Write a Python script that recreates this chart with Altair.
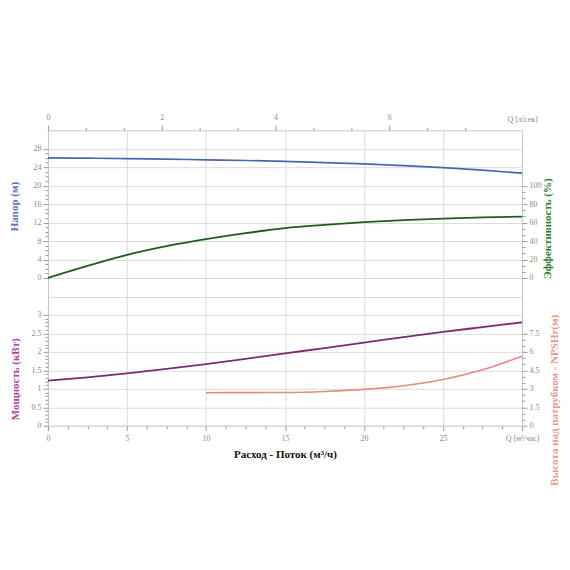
import altair as alt
import pandas as pd

# ---- data ----
q = [0, 2.5, 5, 7.5, 10, 12.5, 15, 17.5, 20, 22.5, 25, 27.5, 30]
head = [26.0, 25.95, 25.85, 25.75, 25.6, 25.45, 25.25, 25.0, 24.7, 24.35, 23.9, 23.35, 22.7]
eff = [0, 13, 25, 34.5, 42, 48.5, 54, 57.5, 60.4, 62.6, 64.4, 65.6, 66.5]
power = [1.22, 1.31, 1.42, 1.54, 1.67, 1.81, 1.96, 2.10, 2.25, 2.40, 2.54, 2.67, 2.80]
q_npsh = [10, 12.5, 15, 17.5, 20, 22.5, 25, 27.5, 30]
npsh = [2.68, 2.69, 2.70, 2.78, 2.95, 3.25, 3.76, 4.55, 5.65]

# tick values
x_ticks = [round(i * 1.25, 2) for i in range(25)]            # m3/h, labelled every 5
top_ticks = [round(i * 2 / 3, 4) for i in range(12)] + [30 / 3.6]  # l/s, labelled every 2
head_ticks = sorted(set(list(range(-32, 33, 4)) + list(range(0, 29))))
eff_ticks = [round(i * 20 / 3, 4) for i in range(16)]        # 0..100
power_ticks = [round(i * 0.1, 1) for i in range(31)]         # 0..3
npsh_ticks = [round(i * 0.5, 1) for i in range(16)]          # 0..7.5

FONT = "Liberation Serif"
GRAY = "#8a8a8a"
C_HEAD = "#4a67ad"
C_EFF = "#1d5e1d"
C_POW = "#7e2a6c"
C_NPSH = "#e08c82"
T_HEAD = "#5673b5"
T_EFF = "#2f7d2f"
T_POW = "#b0449c"
T_NPSH = "#e39a90"

df_main = pd.DataFrame({"Q": q, "head": head, "eff": eff, "power": power})
df_npsh = pd.DataFrame({"Q": q_npsh, "npsh": npsh})


def major(step):
    return f"abs(datum.value/{step} - round(datum.value/{step})) < 0.01"


def cond(test, yes, no):
    return {"condition": {"test": test, "value": yes}, "value": no}


xscale = alt.Scale(domain=[0, 30], nice=False, zero=False)

head_layer = alt.Chart(df_main).mark_line(
    color=C_HEAD, strokeWidth=1.7, interpolate="monotone"
).encode(
    x=alt.X(
        "Q:Q",
        scale=xscale,
        axis=alt.Axis(
            orient="bottom",
            values=x_ticks,
            domain=False,
            grid=True,
            gridColor="#dcdcdc",
            gridOpacity=cond(major(5) + " && datum.value > 0.1 && datum.value < 29.9", 1, 0),
            tickSize=cond(major(5), 5, 3),
            labelExpr="datum.value > 29.9 ? 'Q [м³/час]' : (" + major(5) + " ? datum.label : '')",
            format="~r",
            title="Расход - Поток (м³/ч)",
            titleColor="#111111",
            titleFontWeight="bold",
            titleFontSize=11,
            titlePadding=6,
            labelPadding=4,
        ),
    ),
    y=alt.Y(
        "head:Q",
        scale=alt.Scale(domain=[-32, 32], nice=False, zero=False),
        axis=alt.Axis(
            orient="left",
            values=head_ticks,
            domain=False,
            grid=True,
            gridColor="#dcdcdc",
            gridOpacity=cond(major(4), 1, 0),
            tickOpacity=cond("datum.value < 0 || datum.value > 28", 0, 1),
            tickSize=cond(major(4), 5, 3),
            labelExpr="datum.value >= 0 && datum.value <= 28 && " + major(4) + " ? datum.label : ''",
            format="~r",
            title="Напор (м)",
            titleColor=T_HEAD,
            titleFontWeight="bold",
            titleFontSize=11,
            titleAngle=270,
            titleX=-33,
            titleY=76,
            titleAlign="center",
            titleBaseline="middle",
        ),
    ),
)

eff_layer = alt.Chart(df_main).mark_line(
    color=C_EFF, strokeWidth=1.8, interpolate="monotone"
).encode(
    x=alt.X("Q:Q", scale=xscale, axis=None),
    y=alt.Y(
        "eff:Q",
        scale=alt.Scale(domain=[-160, 160], nice=False, zero=False),
        axis=alt.Axis(
            orient="right",
            values=eff_ticks,
            domain=False,
            grid=False,
            tickSize=cond(major(20), 5, 3),
            labelExpr=major(20) + " ? format(datum.value, 'd') : ''",
            format="d",
            title="Эффективность (%)",
            titleColor=T_EFF,
            titleFontWeight="bold",
            titleFontSize=11,
            titleAngle=270,
            titleX=25,
            titleY=98,
            titleAlign="center",
            titleBaseline="middle",
        ),
    ),
)

power_layer = alt.Chart(df_main).mark_line(
    color=C_POW, strokeWidth=1.8, interpolate="monotone"
).encode(
    x=alt.X("Q:Q", scale=xscale, axis=None),
    y=alt.Y(
        "power:Q",
        scale=alt.Scale(domain=[0, 8], nice=False, zero=False),
        axis=alt.Axis(
            orient="left",
            values=power_ticks,
            domain=False,
            grid=False,
            tickSize=cond(major(0.5), 5, 3),
            labelExpr=major(0.5) + " ? datum.label : ''",
            format="~r",
            title="Мощность (кВт)",
            titleColor=T_POW,
            titleFontWeight="bold",
            titleFontSize=11,
            titleAngle=270,
            titleX=-32,
            titleY=249,
            titleAlign="center",
            titleBaseline="middle",
        ),
    ),
)

npsh_layer = alt.Chart(df_npsh).mark_line(
    color=C_NPSH, strokeWidth=1.6, interpolate="monotone"
).encode(
    x=alt.X("Q:Q", scale=xscale, axis=None),
    y=alt.Y(
        "npsh:Q",
        scale=alt.Scale(domain=[0, 24], nice=False, zero=False),
        axis=alt.Axis(
            orient="right",
            values=npsh_ticks,
            domain=False,
            grid=False,
            tickSize=cond(major(1.5), 5, 3),
            labelExpr=major(1.5) + " ? datum.label : ''",
            format="~r",
            title="Высота над патрубком - NPSHr(м)",
            titleColor=T_NPSH,
            titleFontWeight="bold",
            titleFontSize=11,
            titleAngle=270,
            titleX=32,
            titleY=270,
            titleAlign="center",
            titleBaseline="middle",
        ),
    ),
)

top_layer = alt.Chart(df_main).transform_calculate(
    qls="datum.Q / 3.6"
).mark_point(opacity=0).encode(
    x=alt.X(
        "qls:Q",
        scale=alt.Scale(domain=[0, 30 / 3.6], nice=False, zero=False),
        axis=alt.Axis(
            orient="top",
            values=top_ticks,
            domain=False,
            grid=False,
            tickOpacity=cond("datum.value > 8.2", 0, 1),
            tickSize=cond(major(2), 5, 3),
            labelExpr="datum.value > 8.2 ? 'Q [л/сек]' : (" + major(2) + " ? datum.label : '')",
            format="~r",
            title=None,
            labelPadding=4,
        ),
    ),
)

chart = (
    alt.layer(head_layer, eff_layer, power_layer, npsh_layer, top_layer)
    .resolve_scale(x="independent", y="independent")
    .properties(
        width=475,
        height=296,
        padding={"left": 40, "top": 122, "right": 40, "bottom": 110},
        autosize=alt.AutoSizeParams(type="none"),
    )
    .configure_view(stroke="#c4c4c4", strokeWidth=1)
    .configure_axis(
        labelFont=FONT,
        titleFont=FONT,
        labelFontSize=8,
        labelColor=GRAY,
        labelOverlap=False,
        labelBound=False,
        labelFlush=False,
        tickColor="#9a9a9a",
        tickWidth=1,
    )
)

chart.save("out.html", embed_options={"renderer": "svg", "actions": False})
